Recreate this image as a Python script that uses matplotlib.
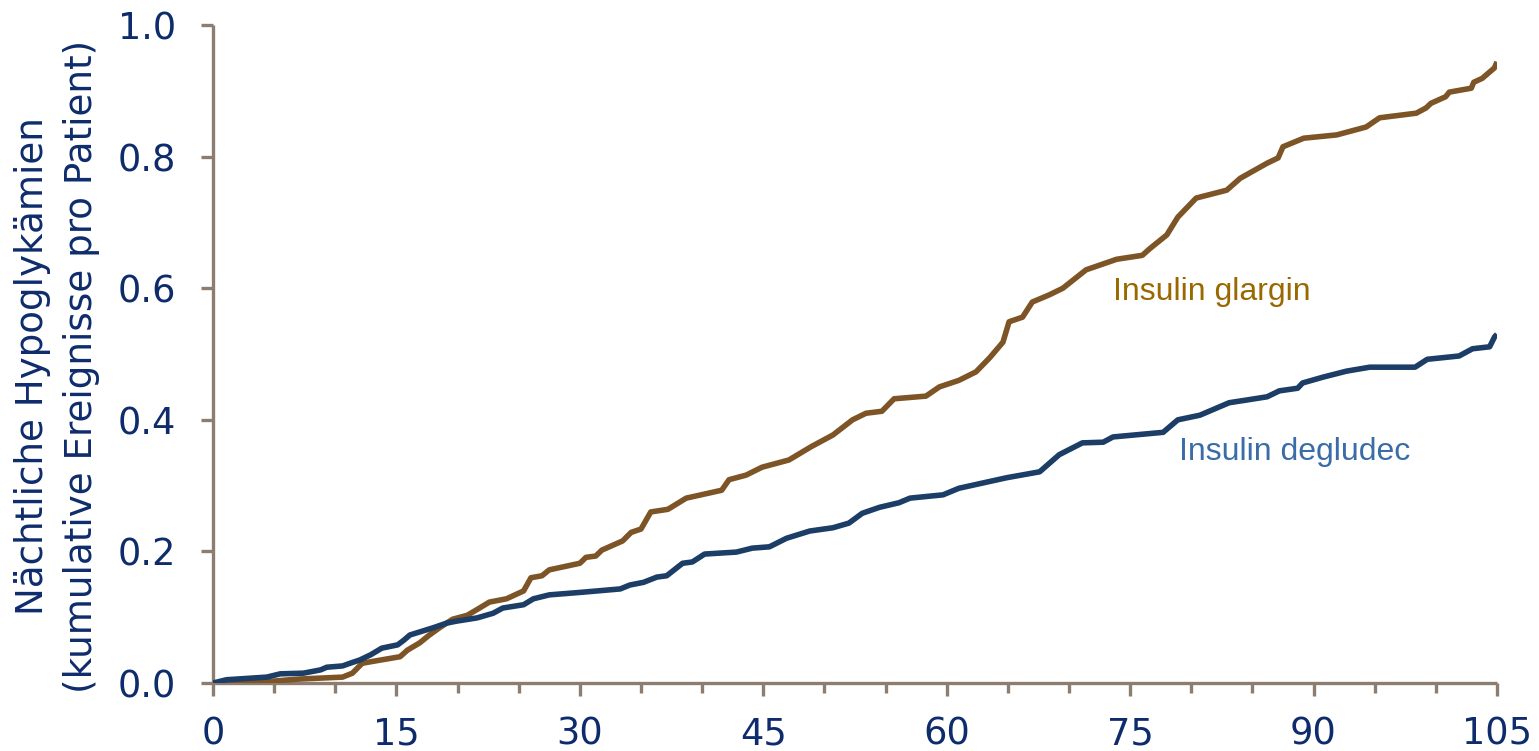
import matplotlib
matplotlib.use("Agg")
import matplotlib.pyplot as plt
from matplotlib.ticker import MultipleLocator

# Weeks of treatment (x) and cumulative nocturnal hypoglycaemic events per patient (y)
glargin_x = [0, 4.3, 7, 10.6, 11.4, 12.2, 13.1, 15.3, 15.9, 16.9, 17.7, 18.6, 19.6, 20.8,
             21.8, 22.6, 24, 25.4, 26, 26.9, 27.5, 30, 30.5, 31.3, 31.8, 33.5, 34.2, 35,
             35.8, 37.2, 38.7, 41.6, 42.2, 43.6, 44.9, 47.1, 48.9, 50.7, 52.3, 53.4, 54.7,
             55.7, 58.3, 59.4, 61, 62.4, 63.5, 64.6, 65.1, 66.2, 67, 68.4, 69.5, 71.4,
             73.9, 76, 76.6, 78, 78.9, 80.4, 82.9, 84, 86.2, 87.1, 87.5, 89.2, 91.9,
             94.3, 95.4, 98.4, 99.2, 99.6, 100.8, 101.1, 102.9, 103.1, 103.8, 104.8, 105]
glargin_y = [0, 0.002, 0.006, 0.009, 0.015, 0.030, 0.033, 0.040, 0.050, 0.061, 0.073, 0.085,
             0.097, 0.103, 0.114, 0.123, 0.128, 0.140, 0.160, 0.163, 0.172, 0.182, 0.191,
             0.193, 0.202, 0.216, 0.229, 0.234, 0.260, 0.264, 0.281, 0.293, 0.309, 0.316,
             0.328, 0.339, 0.359, 0.377, 0.400, 0.410, 0.413, 0.432, 0.436, 0.450, 0.460,
             0.473, 0.494, 0.518, 0.549, 0.556, 0.579, 0.590, 0.600, 0.628, 0.644, 0.650,
             0.660, 0.681, 0.708, 0.737, 0.749, 0.767, 0.790, 0.798, 0.815, 0.828, 0.833,
             0.845, 0.859, 0.866, 0.874, 0.881, 0.891, 0.898, 0.904, 0.913, 0.919, 0.935,
             0.944]

degludec_x = [0, 1.1, 4.4, 5.5, 7.4, 8.8, 9.3, 10.6, 11.2, 12, 12.9, 13.8, 15.1, 15.6, 16.1,
              18, 19.1, 19.9, 21.6, 22.9, 23.7, 25.4, 26.2, 27.5, 30.2, 33.3, 34.1, 35.2,
              36.3, 37.1, 38.4, 39.2, 40.2, 42.8, 44.1, 45.5, 46.9, 48.8, 50.7, 52, 53.1,
              54.5, 56.1, 57, 59.7, 61, 64.9, 67.6, 69.2, 71.1, 72.8, 73.6, 77.7, 78.9,
              80.7, 83.1, 84.5, 86.2, 87.2, 88.7, 89.1, 90.8, 92.7, 94.6, 98.3, 99.3,
              101.9, 103, 104.4, 104.8, 105]
degludec_y = [0, 0.005, 0.009, 0.014, 0.015, 0.020, 0.024, 0.026, 0.030, 0.035, 0.043, 0.053,
              0.058, 0.065, 0.073, 0.084, 0.091, 0.094, 0.099, 0.106, 0.114, 0.119, 0.128,
              0.134, 0.138, 0.143, 0.149, 0.153, 0.161, 0.163, 0.182, 0.184, 0.196, 0.199,
              0.205, 0.207, 0.220, 0.231, 0.236, 0.243, 0.258, 0.267, 0.274, 0.281, 0.286,
              0.296, 0.312, 0.321, 0.347, 0.365, 0.366, 0.374, 0.381, 0.400, 0.407, 0.426,
              0.430, 0.435, 0.444, 0.448, 0.456, 0.465, 0.474, 0.480, 0.480, 0.492, 0.497,
              0.508, 0.511, 0.526, 0.530]

x_ticks = [0, 15, 30, 45, 60, 75, 90, 105]
y_ticks = [0.0, 0.2, 0.4, 0.6, 0.8, 1.0]
y_label = "Nächtliche Hypoglykämien\n(kumulative Ereignisse pro Patient)"
label_glargin = "Insulin glargin"
label_degludec = "Insulin degludec"

navy = "#0E2C6C"
axis_col = "#8C7D70"

fig = plt.figure(figsize=(15.39, 7.51), dpi=100)
ax = fig.add_axes([0.1384, 0.0905, 0.8343, 0.8762])

ax.plot(glargin_x, glargin_y, color="#7D5426", lw=4.0, solid_joinstyle="round",
        solid_capstyle="butt", zorder=3)
ax.plot(degludec_x, degludec_y, color="#1B3D66", lw=4.0, solid_joinstyle="round",
        solid_capstyle="butt", zorder=3)

ax.set_xlim(0, 105)
ax.set_ylim(0, 1.0)
ax.set_xticks(x_ticks)
ax.set_xticklabels([str(t) for t in x_ticks])
ax.xaxis.set_minor_locator(MultipleLocator(5))
ax.set_yticks(y_ticks)
ax.set_yticklabels([f"{t:.1f}" for t in y_ticks])

for s in ["top", "right"]:
    ax.spines[s].set_visible(False)
for s in ["left", "bottom"]:
    ax.spines[s].set_color(axis_col)
    ax.spines[s].set_linewidth(2.4)
    ax.spines[s].set_capstyle("butt")

ax.tick_params(axis="x", which="major", length=9.5, width=2.4, color=axis_col,
               labelsize=26.5, labelcolor=navy, pad=14)
ax.tick_params(axis="x", which="minor", length=7, width=2.4, color=axis_col)
ax.tick_params(axis="y", which="major", length=8.5, width=2.4, color=axis_col,
               labelsize=26.5, labelcolor=navy, pad=18)
for lab in ax.get_xticklabels() + ax.get_yticklabels():
    lab.set_family("DejaVu Sans")

fig.text(0.0368, 0.512, y_label, rotation=90, ha="center", va="center",
         fontsize=26.8, color=navy, family="DejaVu Sans", linespacing=1.42,
         multialignment="center")

ax.text(73.6, 0.594, label_glargin, color="#9A6800", fontsize=23,
        family="Liberation Sans", ha="left", va="center")
ax.text(79.0, 0.351, label_degludec, color="#3A6CA6", fontsize=23,
        family="Liberation Sans", ha="left", va="center")

fig.savefig("out.png", dpi=100, facecolor="white")
